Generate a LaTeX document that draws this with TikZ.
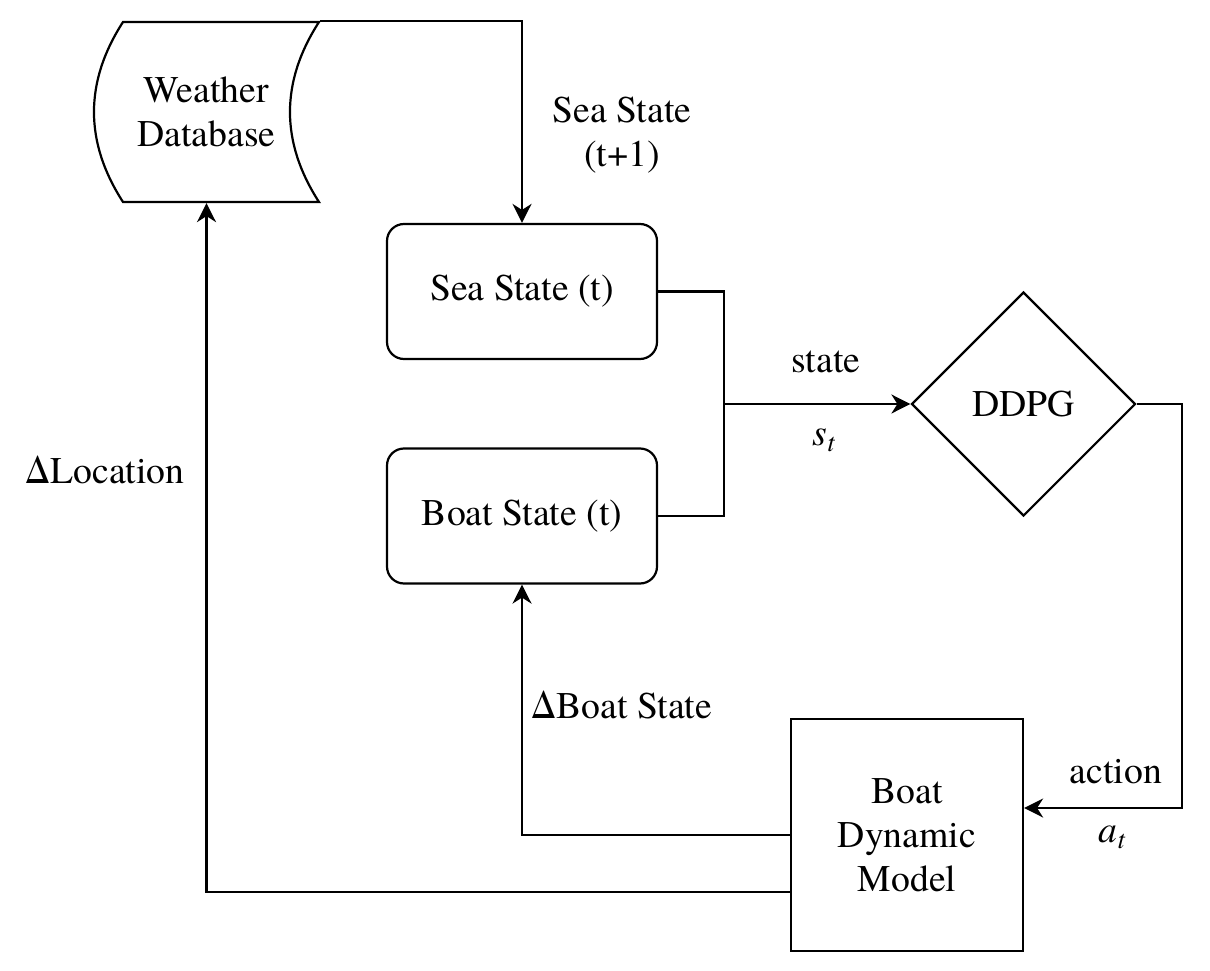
\documentclass[tikz,border=0pt]{standalone}
\usepackage{fontspec}
\setmainfont{TeX Gyre Termes}
\usetikzlibrary{shapes.geometric,arrows.meta}
\begin{document}
\begin{tikzpicture}[x=1pt,y=-1pt,
  font=\fontsize{37.7}{44}\selectfont,
  line width=2.2pt,
  arr/.style={-{Stealth[length=19pt,width=19pt,inset=6pt]}},
  rbox/.style={draw, rounded corners=17pt, minimum width=270pt, minimum height=135pt, inner sep=0, align=center},
  sbox/.style={draw, minimum width=232pt, minimum height=232pt, inner sep=0, align=center},
  dia/.style={draw, diamond, aspect=1, minimum width=224pt, minimum height=224pt, inner sep=0},
  lbl/.style={inner sep=0, align=center}]
\useasboundingbox (0,0) rectangle (1210,971);

% Weather database (stored data shape)
\draw (123,22) -- (319,22) .. controls (280.3,82) and (280.3,142) .. (319,202)
      -- (123,202) .. controls (84.3,142) and (84.3,82) .. (123,22) -- cycle;
\node[inner sep=0, minimum width=225pt, minimum height=180pt, align=center] (wdb) at (206.5,112) {Weather\\Database};

\node[rbox] (sea) at (522,291.5) {Sea State (t)};
\node[rbox] (boat) at (522,516) {Boat State (t)};
\node[dia] (ddpg) at (1023.5,404) {DDPG};
\node[sbox] (bdm) at (907,835) {Boat\\Dynamic\\Model};
\coordinate (j) at (724,404);

% connectors
\draw[arr] (wdb.north east) -| (sea.north);
\draw (sea.east) -| (j);
\draw (boat.east) -| (j);
\draw[arr] (j) -- (ddpg.west);
\draw[arr] (ddpg.east) -- ++(45,0) |- ([yshift=27pt]bdm.east);
\draw[arr] (bdm.west) -| (boat.south);
\draw[arr] ([yshift=-57pt]bdm.west) -| (wdb.south);

% labels
\node[lbl] (l1) at (622,135) {Sea State\\(t+1)};
\node[lbl] (l2) at (826,362) {state};
\node[lbl] (l3) at (824,440) {\itshape s\textsubscript{t}};
\node[lbl] (l4) at (105,470) {ΔLocation};
\node[lbl] (l5) at (622,705) {ΔBoat State};
\node[lbl] (l6) at (1116,772) {action};
\node[lbl] (l7) at (1112,837) {\itshape a\textsubscript{t}};
\end{tikzpicture}
\end{document}
